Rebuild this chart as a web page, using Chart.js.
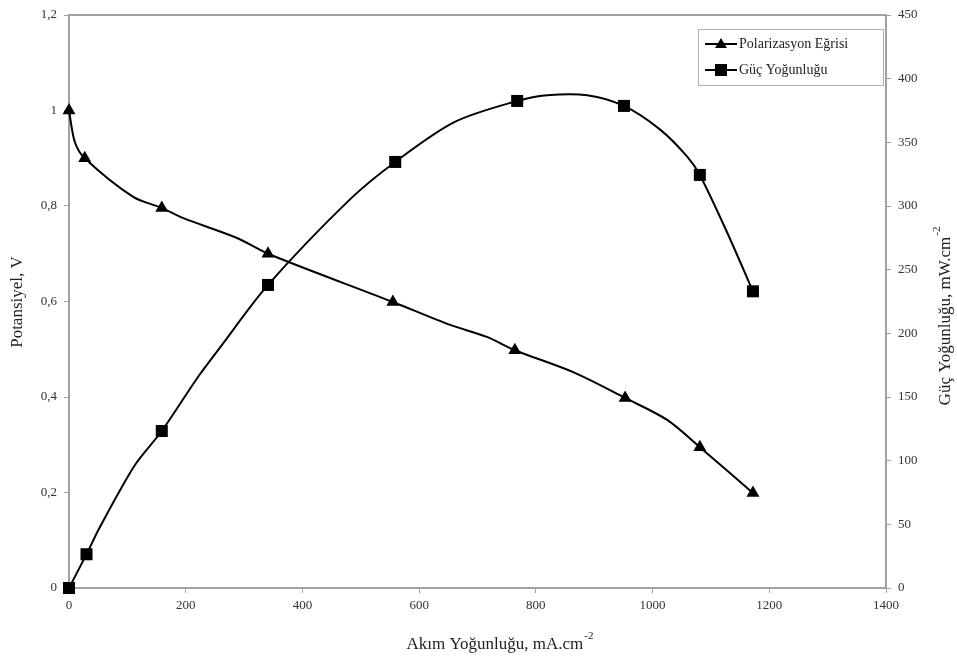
<!DOCTYPE html>
<html>
<head>
<meta charset="utf-8">
<script src="https://cdn.jsdelivr.net/npm/chart.js@4/dist/chart.umd.min.js"></script>
<style>
  html, body { margin: 0; padding: 0; background: #fff; }
  #wrap { width: 957px; height: 660px; }
</style>
</head>
<body>
<div id="wrap"><canvas id="grafik" width="957" height="660"></canvas></div>
<script>
// Polarizasyon egrisi: cizgi noktalari ve isaretli noktalar
const polLineX = [0, 10, 27, 110, 159, 195, 288, 341, 555, 653, 716, 764, 864, 953, 1025, 1081, 1172];
const polLineV = [1.0, 0.934, 0.90, 0.819, 0.796, 0.775, 0.733, 0.70, 0.599, 0.551, 0.526, 0.498, 0.452, 0.398, 0.352, 0.295, 0.199];
const polMarkX = [0, 27, 159, 341, 555, 764, 953, 1081, 1172];
const polMarkV = [1.0, 0.90, 0.796, 0.70, 0.599, 0.498, 0.398, 0.295, 0.199];

// Guc yogunlugu
const gucLineX = [0, 30, 53, 113, 159, 221, 259, 341, 481, 559, 661, 768, 819, 888, 951, 1013, 1059, 1081, 1128, 1172];
const gucLineP = [0, 26.5, 47.9, 96.6, 123.3, 165.7, 189, 238, 305, 334.6, 366, 382.5, 387, 387, 378.6, 360, 339, 324.4, 279, 233];
const gucMarkX = [0, 30, 159, 341, 559, 768, 951, 1081, 1172];
const gucMarkP = [0, 26.5, 123.3, 238, 334.6, 382.5, 378.6, 324.4, 233];

const xTicks = [0, 200, 400, 600, 800, 1000, 1200, 1400];
const leftTicks = [0, 0.2, 0.4, 0.6, 0.8, 1, 1.2];
const rightTicks = [0, 50, 100, 150, 200, 250, 300, 350, 400, 450];

const seriesNames = ["Polarizasyon Eğrisi", "Güç Yoğunluğu"];

const FONT = "'Liberation Serif', 'Times New Roman', serif";
const AXIS = "#a0a0a0";

function pts(xs, ys) {
  return xs.map((x, i) => ({ x: x, y: ys[i] }));
}

function drawTitle(ctx, main, sup, cx, cy, rot) {
  ctx.save();
  ctx.translate(cx, cy);
  ctx.rotate(rot);
  ctx.font = "17px " + FONT;
  const w1 = ctx.measureText(main).width;
  ctx.font = "11px " + FONT;
  const w2 = sup ? ctx.measureText(sup).width + 1 : 0;
  const x0 = -(w1 + w2) / 2;
  ctx.fillStyle = "#222";
  ctx.textBaseline = "middle";
  ctx.textAlign = "left";
  ctx.font = "17px " + FONT;
  ctx.fillText(main, x0, 0);
  if (sup) {
    ctx.font = "11px " + FONT;
    ctx.fillText(sup, x0 + w1 + 1, -9);
  }
  ctx.restore();
}

const extras = {
  id: "extras",
  afterDraw(chart) {
    const ctx = chart.ctx;
    const a = chart.chartArea;
    // ust cerceve
    ctx.save();
    ctx.strokeStyle = AXIS;
    ctx.lineWidth = 2;
    ctx.beginPath();
    ctx.moveTo(a.left, a.top);
    ctx.lineTo(a.right, a.top);
    ctx.stroke();
    ctx.restore();

    drawTitle(ctx, "Potansiyel, V", "", 18, 302, -Math.PI / 2);
    drawTitle(ctx, "Akım Yoğunluğu, mA.cm", "-2", 500, 645, 0);
    drawTitle(ctx, "Güç Yoğunluğu, mW.cm", "-2", 946, 316, -Math.PI / 2);

    // lejant
    const bx = 698, by = 29, bw = 185, bh = 56;
    ctx.save();
    ctx.fillStyle = "#fff";
    ctx.fillRect(bx, by, bw, bh);
    ctx.strokeStyle = "#b0b0b0";
    ctx.lineWidth = 1;
    ctx.strokeRect(bx + 0.5, by + 0.5, bw, bh);
    const rows = [by + 15, by + 41];
    const styles = ["triangle", "rect"];
    rows.forEach((ry, i) => {
      ctx.strokeStyle = "#000";
      ctx.lineWidth = 2;
      ctx.beginPath();
      ctx.moveTo(bx + 7, ry);
      ctx.lineTo(bx + 39, ry);
      ctx.stroke();
      ctx.fillStyle = "#000";
      if (styles[i] === "triangle") {
        ctx.beginPath();
        ctx.moveTo(bx + 23, ry - 6);
        ctx.lineTo(bx + 29, ry + 4);
        ctx.lineTo(bx + 17, ry + 4);
        ctx.closePath();
        ctx.fill();
      } else {
        ctx.fillRect(bx + 17, ry - 6, 12, 12);
      }
      ctx.font = "14px " + FONT;
      ctx.textBaseline = "middle";
      ctx.textAlign = "left";
      ctx.fillStyle = "#222";
      ctx.fillText(seriesNames[i], bx + 41, ry);
    });
    ctx.restore();
  }
};

function loadChart(canvas) {
  return new Chart(canvas, {
    type: "line",
    data: {
      datasets: [
        { data: pts(polLineX, polLineV), yAxisID: "y", borderColor: "#000", borderWidth: 2,
          pointRadius: 0, tension: 0.3 },
        { data: pts(polMarkX, polMarkV), yAxisID: "y", showLine: false, pointStyle: "triangle",
          pointRadius: 7.5, backgroundColor: "#000", borderColor: "#000", borderWidth: 0 },
        { data: pts(gucLineX, gucLineP), yAxisID: "y1", borderColor: "#000", borderWidth: 2,
          pointRadius: 0, tension: 0.3 },
        { data: pts(gucMarkX, gucMarkP), yAxisID: "y1", showLine: false, pointStyle: "rect",
          pointRadius: 8.5, backgroundColor: "#000", borderColor: "#000", borderWidth: 0 }
      ]
    },
    options: {
      responsive: false,
      animation: false,
      clip: false,
      layout: { padding: { top: 15, left: 0, right: 0, bottom: 0 } },
      plugins: { legend: { display: false }, tooltip: { enabled: false } },
      scales: {
        x: {
          type: "linear", min: 0, max: 1400,
          afterBuildTicks: (s) => { s.ticks = xTicks.map(v => ({ value: v })); },
          afterFit: (s) => { s.height = 72; },
          grid: { drawOnChartArea: false, tickLength: 5, color: AXIS, lineWidth: 1 },
          border: { color: AXIS, width: 2 },
          ticks: { color: "#333", font: { family: FONT, size: 13 }, padding: 5, maxRotation: 0,
            callback: (v) => String(v) }
        },
        y: {
          position: "left", min: 0, max: 1.2,
          afterBuildTicks: (s) => { s.ticks = leftTicks.map(v => ({ value: v })); },
          afterFit: (s) => { s.width = 69; },
          grid: { drawOnChartArea: false, tickLength: 5, color: AXIS, lineWidth: 1 },
          border: { color: AXIS, width: 2 },
          ticks: { color: "#333", font: { family: FONT, size: 13 }, padding: 7,
            callback: (v) => String(Math.round(v * 10) / 10).replace(".", ",") }
        },
        y1: {
          position: "right", min: 0, max: 450,
          afterBuildTicks: (s) => { s.ticks = rightTicks.map(v => ({ value: v })); },
          afterFit: (s) => { s.width = 71; },
          grid: { drawOnChartArea: false, tickLength: 5, color: AXIS, lineWidth: 1 },
          border: { color: AXIS, width: 2 },
          ticks: { color: "#333", font: { family: FONT, size: 13 }, padding: 7 }
        }
      }
    },
    plugins: [extras]
  });
}

document.addEventListener("DOMContentLoaded", () => {
  const canvas = document.getElementById("grafik");
  if (canvas) loadChart(canvas);
});
</script>
</body>
</html>
